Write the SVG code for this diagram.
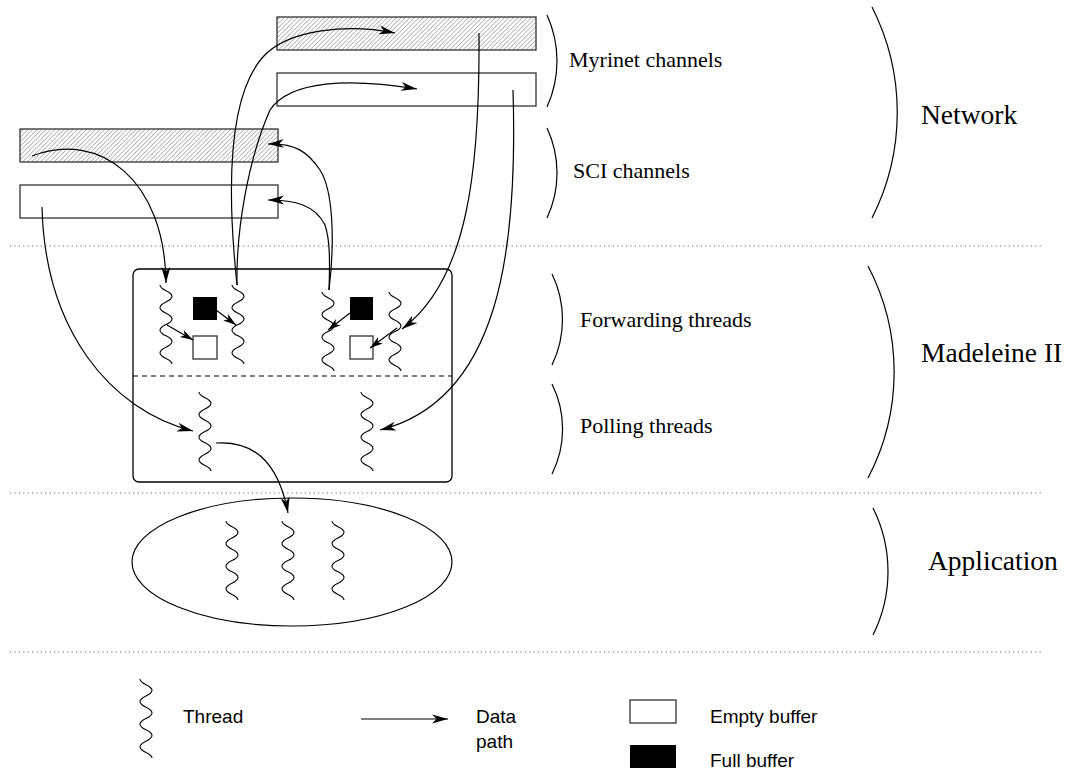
<svg xmlns="http://www.w3.org/2000/svg" width="1068" height="776" viewBox="0 0 1068 776">
<style>
.ln{fill:none;stroke:#000;stroke-width:1.2}
.thr{fill:none;stroke:#000;stroke-width:1.1}
.box{fill:#fff;stroke:#333;stroke-width:1.3}
.hat{fill:url(#hatch);stroke:#333;stroke-width:1.3}
.dot{stroke:#666;stroke-width:1.2;stroke-dasharray:1.2 3.2;fill:none}
.arc{fill:none;stroke:#000;stroke-width:1.2}
.big{font-family:"Liberation Serif","Times New Roman",serif;font-size:27.5px;fill:#000}
.sm{font-family:"Liberation Serif","Times New Roman",serif;font-size:22px;fill:#000}
.lg{font-family:"Liberation Sans",Arial,sans-serif;font-size:19px;fill:#000}
</style>
<defs>
<pattern id="hatch" patternUnits="userSpaceOnUse" width="4.5" height="4.5">
<rect width="4.5" height="4.5" fill="#fff"/>
<path d="M-1,1 L1,-1 M0,4.5 L4.5,0 M3.5,5.5 L5.5,3.5" stroke="#777" stroke-width="0.7"/>
</pattern>
<marker id="ah" markerUnits="userSpaceOnUse" markerWidth="17" markerHeight="11" viewBox="-16 -5.5 17 11" refX="0" refY="0" orient="auto">
<path d="M0,0 L-16,-4.5 L-11.5,0 L-16,4.5 Z" fill="#000"/>
</marker>
<marker id="ahs" markerUnits="userSpaceOnUse" markerWidth="14" markerHeight="10" viewBox="-13 -5 14 10" refX="0" refY="0" orient="auto">
<path d="M0,0 L-13,-4 L-9.5,0 L-13,4 Z" fill="#000"/>
</marker>
<path id="thread" class="thr" d="M-6,0 c0,5.65 12,5.65 12,11.3 c0,5.65 -12,5.65 -12,11.3 c0,5.65 12,5.65 12,11.3 c0,5.65 -12,5.65 -12,11.3 c0,5.65 12,5.65 12,11.3 c0,5.65 -12,5.65 -12,11.3 c0,5.65 12,5.65 12,11.3"/>
</defs>
<rect width="1068" height="776" fill="#fff"/>

<g id="separators">
<line class="dot" x1="10" y1="246" x2="1042" y2="246"/>
<line class="dot" x1="10" y1="493" x2="1042" y2="493"/>
<line class="dot" x1="10" y1="652" x2="1042" y2="652"/>
</g>

<g id="myrinet-channels">
<rect class="hat" x="277" y="17" width="259" height="33"/>
<rect class="box" x="277" y="73" width="259" height="33"/>
</g>
<g id="sci-channels">
<rect class="hat" x="20" y="129" width="258" height="33"/>
<rect class="box" x="20" y="185" width="258" height="33"/>
</g>

<g id="madeleine">
<rect x="133" y="269" width="319" height="213" rx="6" fill="none" stroke="#000" stroke-width="1.3"/>
<line x1="133" y1="376" x2="452" y2="376" stroke="#000" stroke-width="1.2" stroke-dasharray="5 4"/>
</g>
<g id="forwarding-threads">
<use href="#thread" transform="translate(166,285)"/>
<use href="#thread" transform="translate(238,285)"/>
<use href="#thread" transform="translate(328,292)"/>
<use href="#thread" transform="translate(395,292)"/>
<rect x="193" y="297" width="24" height="23" fill="#000"/>
<rect class="box" x="193" y="336" width="24" height="23"/>
<rect x="350" y="297" width="23" height="23" fill="#000"/>
<rect class="box" x="350" y="336" width="23" height="23"/>
</g>
<g id="polling-threads">
<use href="#thread" transform="translate(205,392)"/>
<use href="#thread" transform="translate(367,392)"/>
</g>

<g id="application">
<ellipse cx="292" cy="562" rx="160" ry="64" fill="none" stroke="#000" stroke-width="1.2"/>
<use href="#thread" transform="translate(232,521)"/>
<use href="#thread" transform="translate(288,521)"/>
<use href="#thread" transform="translate(338,521)"/>
</g>

<g id="connectors">
<path class="ln" marker-end="url(#ah)" d="M237,285 C228,200 226,100 262,58 C288,28 350,24 395,33"/>
<path class="ln" marker-end="url(#ah)" d="M237,285 C236,230 248,160 270,110 C290,80 350,78 417,89"/>
<path class="ln" marker-end="url(#ah)" d="M329,290 C335,240 333,190 320,170 C308,152 295,143 268,144"/>
<path class="ln" marker-end="url(#ah)" d="M329,290 C330,260 330,240 325,225 C315,205 295,200 268,200"/>
<path class="ln" marker-end="url(#ah)" d="M479,33 C480,170 468,280 402,329"/>
<path class="ln" marker-end="url(#ah)" d="M513,90 C518,250 500,400 380,430"/>
<path class="ln" marker-end="url(#ah)" d="M32,156 C100,130 165,180 166,283"/>
<path class="ln" marker-end="url(#ah)" d="M42,207 C45,330 110,410 193,431"/>
<path class="ln" marker-end="url(#ah)" d="M216,443 C260,440 280,470 288,513"/>
<path class="ln" marker-end="url(#ahs)" d="M167,325 L193,340"/>
<path class="ln" marker-end="url(#ahs)" d="M216,310 L236,325"/>
<path class="ln" marker-end="url(#ahs)" d="M350,313 L328,330"/>
<path class="ln" marker-end="url(#ahs)" d="M397,328 L370,348"/>
</g>

<g id="layer-labels">
<path class="arc" d="M547,15 A111,111 0 0 1 547,107"/>
<text class="sm" x="569" y="67">Myrinet channels</text>
<path class="arc" d="M547,128 A106,106 0 0 1 547,218"/>
<text class="sm" x="573" y="178">SCI channels</text>
<path class="arc" d="M872,7 A233,233 0 0 1 872,218"/>
<text class="big" x="921" y="124">Network</text>
<path class="arc" d="M552,274 A104,104 0 0 1 552,365"/>
<text class="sm" x="580" y="327">Forwarding threads</text>
<path class="arc" d="M552,384 A101,101 0 0 1 552,474"/>
<text class="sm" x="580" y="433">Polling threads</text>
<path class="arc" d="M868,266 A228,228 0 0 1 868,478"/>
<text class="big" x="921" y="362">Madeleine II</text>
<path class="arc" d="M873,508 A142,142 0 0 1 873,635"/>
<text class="big" x="928" y="570">Application</text>
</g>

<g id="legend">
<use href="#thread" transform="translate(146,679)"/>
<text class="lg" x="183" y="723">Thread</text>
<path class="ln" marker-end="url(#ah)" d="M361,719 L448,719"/>
<text class="lg" x="476" y="723">Data</text>
<text class="lg" x="476" y="748">path</text>
<rect class="box" x="630" y="700" width="46" height="23"/>
<text class="lg" x="710" y="723">Empty buffer</text>
<rect x="630" y="745" width="46" height="23" fill="#000"/>
<text class="lg" x="710" y="767">Full buffer</text>
</g>
</svg>
